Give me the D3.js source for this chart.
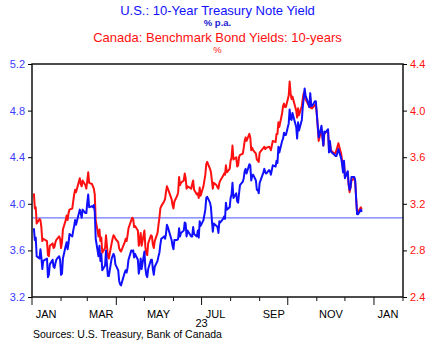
<!DOCTYPE html>
<html>
<head>
<meta charset="utf-8">
<title>10-Year Yields: U.S. and Canada</title>
<script src="https://d3js.org/d3.v7.min.js"></script>
<style>
  body { margin: 0; background: #fff; font-family: "Liberation Sans", Arial, sans-serif; }
</style>
</head>
<body>
<svg id="chart" width="435" height="346"></svg>
<script>
// trading days in 2023 (month-day)
var days = ["01-03","01-04","01-05","01-06","01-09","01-10","01-11","01-12","01-13","01-17","01-18","01-19","01-20",
  "01-23","01-24","01-25","01-26","01-27","01-30","01-31","02-01","02-02","02-03","02-06","02-07","02-08","02-09","02-10",
  "02-13","02-14","02-15","02-16","02-17","02-21","02-22","02-23","02-24","02-27","02-28","03-01","03-02","03-03",
  "03-06","03-07","03-08","03-09","03-10","03-13","03-14","03-15","03-16","03-17","03-20","03-21","03-22","03-23","03-24",
  "03-27","03-28","03-29","03-30","03-31","04-03","04-04","04-05","04-06","04-10","04-11","04-12","04-13","04-14",
  "04-17","04-18","04-19","04-20","04-21","04-24","04-25","04-26","04-27","04-28","05-01","05-02","05-03","05-04","05-05",
  "05-08","05-09","05-10","05-11","05-12","05-15","05-16","05-17","05-18","05-19","05-22","05-23","05-24","05-25","05-26",
  "05-30","05-31","06-01","06-02","06-05","06-06","06-07","06-08","06-09","06-12","06-13","06-14","06-15","06-16",
  "06-20","06-21","06-22","06-23","06-26","06-27","06-28","06-29","06-30","07-03","07-05","07-06","07-07",
  "07-10","07-11","07-12","07-13","07-14","07-17","07-18","07-19","07-20","07-21","07-24","07-25","07-26","07-27","07-28",
  "07-31","08-01","08-02","08-03","08-04","08-07","08-08","08-09","08-10","08-11","08-14","08-15","08-16","08-17","08-18",
  "08-21","08-22","08-23","08-24","08-25","08-28","08-29","08-30","08-31","09-01","09-05","09-06","09-07","09-08",
  "09-11","09-12","09-13","09-14","09-15","09-18","09-19","09-20","09-21","09-22","09-25","09-26","09-27","09-28","09-29",
  "10-02","10-03","10-04","10-05","10-06","10-10","10-11","10-12","10-13","10-16","10-17","10-18","10-19","10-20",
  "10-23","10-24","10-25","10-26","10-27","10-30","10-31","11-01","11-02","11-03","11-06","11-07","11-08","11-09","11-10",
  "11-13","11-14","11-15","11-16","11-17","11-20","11-21","11-22","11-24","11-27","11-28","11-29","11-30","12-01",
  "12-04","12-05","12-06","12-07","12-08","12-11","12-12","12-13","12-14","12-15","12-18","12-19"];

// U.S. 10-year Treasury note yield, % p.a. (left axis)
var usYield = [3.79,3.69,3.71,3.55,3.53,3.61,3.54,3.44,3.51,3.53,3.37,3.39,3.48,
  3.52,3.46,3.45,3.49,3.52,3.55,3.52,3.39,3.40,3.53,3.64,3.67,3.61,3.66,3.74,
  3.72,3.77,3.81,3.86,3.82,3.95,3.92,3.88,3.95,3.92,3.92,4.01,4.08,3.97,
  3.98,3.97,3.99,3.93,3.70,3.55,3.64,3.51,3.57,3.43,3.47,3.60,3.48,3.38,3.38,
  3.53,3.55,3.57,3.55,3.48,3.43,3.34,3.31,3.30,3.41,3.43,3.41,3.45,3.52,
  3.60,3.59,3.60,3.54,3.57,3.52,3.40,3.45,3.53,3.44,3.59,3.45,3.39,3.37,3.44,
  3.52,3.52,3.44,3.39,3.46,3.51,3.55,3.58,3.65,3.70,3.72,3.70,3.74,3.82,3.80,
  3.69,3.64,3.61,3.69,3.69,3.70,3.79,3.72,3.75,3.77,3.84,3.83,3.72,3.77,
  3.72,3.72,3.80,3.74,3.72,3.77,3.71,3.85,3.81,3.86,3.95,4.05,4.06,
  4.01,3.97,3.86,3.76,3.83,3.81,3.80,3.75,3.85,3.84,3.87,3.89,3.87,4.01,3.95,
  3.97,4.05,4.08,4.18,4.05,4.09,4.02,4.01,4.09,4.16,4.19,4.22,4.28,4.30,4.26,
  4.34,4.33,4.20,4.24,4.25,4.20,4.12,4.12,4.09,4.18,4.27,4.30,4.27,4.26,
  4.29,4.28,4.25,4.29,4.33,4.32,4.37,4.35,4.49,4.44,4.54,4.56,4.61,4.59,4.59,
  4.69,4.81,4.73,4.72,4.78,4.66,4.56,4.70,4.63,4.72,4.83,4.90,4.99,4.93,
  4.86,4.83,4.95,4.84,4.84,4.88,4.88,4.77,4.67,4.57,4.67,4.58,4.50,4.62,4.61,
  4.64,4.44,4.54,4.45,4.44,4.42,4.41,4.41,4.47,4.39,4.34,4.27,4.37,4.22,
  4.28,4.17,4.12,4.14,4.23,4.23,4.20,4.04,3.91,3.91,3.95,3.93];

// Canada benchmark bond yield, 10-years, % (right axis)
var caYield = [3.29,3.16,3.17,3.03,3.07,3.06,3.00,2.88,2.90,2.88,2.76,2.75,2.84,
  2.86,2.82,2.83,2.87,2.89,2.92,2.90,2.82,2.87,2.98,3.06,3.10,3.06,3.12,3.15,
  3.16,3.22,3.28,3.32,3.30,3.42,3.37,3.35,3.40,3.36,3.33,3.40,3.47,3.38,
  3.37,3.35,3.33,3.28,3.06,2.92,2.98,2.88,2.91,2.78,2.82,2.93,2.84,2.75,2.73,
  2.86,2.90,2.93,2.92,2.90,2.87,2.82,2.80,2.79,2.87,2.90,2.88,2.93,2.99,
  3.06,3.08,3.07,3.00,3.01,2.97,2.84,2.88,2.95,2.84,2.97,2.83,2.77,2.76,2.86,
  2.93,2.92,2.85,2.82,2.88,2.95,3.02,3.08,3.16,3.18,3.22,3.24,3.30,3.35,3.33,
  3.24,3.19,3.16,3.22,3.27,3.30,3.43,3.36,3.38,3.40,3.46,3.42,3.33,3.35,
  3.33,3.37,3.40,3.32,3.28,3.29,3.25,3.34,3.27,3.35,3.45,3.54,3.56,
  3.50,3.47,3.40,3.33,3.38,3.36,3.34,3.33,3.38,3.40,3.44,3.46,3.45,3.53,3.47,
  3.50,3.57,3.60,3.70,3.58,3.60,3.52,3.53,3.60,3.62,3.63,3.68,3.74,3.77,3.74,
  3.80,3.77,3.66,3.68,3.66,3.63,3.58,3.57,3.56,3.64,3.68,3.69,3.67,3.68,
  3.69,3.68,3.66,3.70,3.74,3.73,3.80,3.80,3.90,3.86,3.98,4.04,4.06,4.03,4.03,
  4.13,4.25,4.15,4.10,4.12,4.00,3.94,4.02,3.96,4.04,4.10,4.15,4.16,4.10,
  4.05,4.03,4.11,4.02,4.02,4.05,4.05,3.97,3.86,3.74,3.84,3.77,3.70,3.80,3.81,
  3.83,3.67,3.72,3.66,3.65,3.63,3.64,3.66,3.72,3.63,3.57,3.49,3.56,3.43,
  3.47,3.36,3.30,3.34,3.40,3.42,3.38,3.25,3.12,3.13,3.17,3.15];

var leftTicks = [3.2, 3.6, 4.0, 4.4, 4.8, 5.2];
var rightTicks = [2.4, 2.8, 3.2, 3.6, 4.0, 4.4];
var monthNames = ["JAN","FEB","MAR","APR","MAY","JUN","JUL","AUG","SEP","OCT","NOV","DEC"];
var refLevel = 3.88;   // horizontal reference line, left scale

var parse = d3.timeParse("%Y-%m-%d");
var dates = days.map(function(d) { return parse("2023-" + d); });

var margin = {top: 64, right: 32, bottom: 49, left: 32},
    width = 435 - margin.left - margin.right,
    height = 346 - margin.top - margin.bottom;

var svg = d3.select("#chart");
var g = svg.append("g")
    .attr("transform", "translate(" + margin.left + "," + margin.top + ")");

var x = d3.scaleTime()
    .domain([new Date(2023, 0, 1), new Date(2024, 1, 1)])
    .range([0, width]);
var yL = d3.scaleLinear().domain([3.2, 5.2]).range([height, 0]);
var yR = d3.scaleLinear().domain([2.4, 4.4]).range([height, 0]);

var blue = "#1010ff", red = "#ff1010";

// titles
var titles = [
  {t: "U.S.: 10-Year Treasury Note Yield", y: 15, size: 13, fill: blue, weight: "normal"},
  {t: "% p.a.", y: 26, size: 9.5, fill: "#2020d0", weight: "bold"},
  {t: "Canada: Benchmark Bond Yields: 10-years", y: 42, size: 13, fill: red, weight: "normal"},
  {t: "%", y: 53, size: 9.5, fill: red, weight: "normal"}
];
svg.selectAll(".title").data(titles).enter().append("text")
    .attr("class", "title")
    .attr("x", 217.5)
    .attr("y", function(d) { return d.y; })
    .attr("text-anchor", "middle")
    .style("font-size", function(d) { return d.size + "px"; })
    .style("font-weight", function(d) { return d.weight; })
    .style("fill", function(d) { return d.fill; })
    .text(function(d) { return d.t; });

// reference line
g.append("line")
    .attr("x1", 0).attr("x2", width)
    .attr("y1", yL(refLevel)).attr("y2", yL(refLevel))
    .style("stroke", "#6f78ff")
    .style("stroke-width", 1.2);

// series
var lineUS = d3.line()
    .x(function(d, i) { return x(dates[i]); })
    .y(function(d) { return yL(d); });
var lineCA = d3.line()
    .x(function(d, i) { return x(dates[i]); })
    .y(function(d) { return yR(d); });

g.append("path").datum(caYield)
    .attr("d", lineCA)
    .style("fill", "none").style("stroke", red)
    .style("stroke-width", 2).style("stroke-linejoin", "round");
g.append("path").datum(usYield)
    .attr("d", lineUS)
    .style("fill", "none").style("stroke", blue)
    .style("stroke-width", 2).style("stroke-linejoin", "round");

// frame
g.append("rect")
    .attr("width", width).attr("height", height)
    .style("fill", "none").style("stroke", "#111").style("stroke-width", 1.5);

// y axes
var leftAxis = g.append("g")
    .call(d3.axisLeft(yL).tickValues(leftTicks).tickFormat(d3.format(".1f")).tickSize(4).tickPadding(3));
leftAxis.select(".domain").remove();
leftAxis.selectAll("text").style("fill", "#3b3bff").style("font-size", "11px")
    .style("font-family", "'Liberation Sans', Arial, sans-serif");

var rightAxis = g.append("g")
    .attr("transform", "translate(" + width + ",0)")
    .call(d3.axisRight(yR).tickValues(rightTicks).tickFormat(d3.format(".1f")).tickSize(4).tickPadding(3));
rightAxis.select(".domain").remove();
rightAxis.selectAll("text").style("fill", red).style("font-size", "11px")
    .style("font-family", "'Liberation Sans', Arial, sans-serif");

// x axis: month ticks, longer at quarters, labels centred on every other month
var months = d3.timeMonth.range(new Date(2023, 0, 1), new Date(2024, 1, 2));
g.selectAll(".mtick").data(months).enter().append("line")
    .attr("class", "mtick")
    .attr("x1", function(d) { return x(d); })
    .attr("x2", function(d) { return x(d); })
    .attr("y1", height)
    .attr("y2", function(d) { return height + (d.getMonth() % 3 === 0 ? 8 : 4); })
    .style("stroke", "#111").style("stroke-width", 1);

var labelMonths = months.filter(function(d) { return d.getMonth() % 2 === 0 && d < new Date(2024, 1, 1); });
g.selectAll(".mlabel").data(labelMonths).enter().append("text")
    .attr("class", "mlabel")
    .attr("x", function(d) { return x(d3.timeDay.offset(d, 15)); })
    .attr("y", height + 21)
    .attr("text-anchor", "middle")
    .style("font-size", "11px")
    .text(function(d) { return monthNames[d.getMonth()]; });

g.append("text")
    .attr("x", x(new Date(2023, 6, 1)))
    .attr("y", height + 30)
    .attr("text-anchor", "middle")
    .style("font-size", "11px")
    .text("23");

svg.append("text")
    .attr("x", 33)
    .attr("y", 338)
    .style("font-size", "10.5px")
    .text("Sources:  U.S. Treasury, Bank of Canada");
</script>
</body>
</html>
